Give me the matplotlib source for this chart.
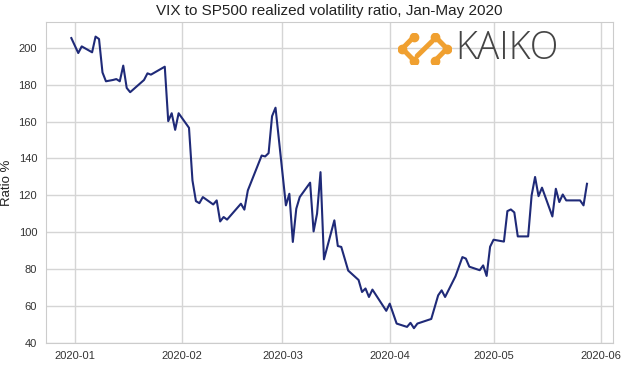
import matplotlib
matplotlib.use("Agg")
import matplotlib.pyplot as plt
import matplotlib.dates as mdates
import numpy as np
import pandas as pd

day_offsets = [-1, 1, 2, 5, 6, 7, 8, 9, 11, 12, 13, 14, 15, 16, 20, 21, 22, 26, 27, 28,
               29, 30, 33, 34, 35, 36, 37, 40, 41, 42, 43, 44, 48, 49, 50, 54, 55, 56, 57, 58,
               61, 62, 63, 64, 65, 68, 69, 70, 71, 72, 75, 76, 77, 79, 82, 83, 84, 85, 86, 90,
               91, 93, 96, 97, 98, 99, 103, 105, 106, 107, 110, 112, 113, 114, 117, 118, 119, 120, 121, 124,
               125, 126, 127, 128, 131, 132, 133, 134, 135, 138, 139, 140, 141, 142, 146, 147, 148]
ratio = [205.2, 197.1, 200.7, 197.5, 206.0, 204.7, 186.6, 181.8, 182.5, 183.0, 181.8, 190.3, 178.2, 175.9, 182.5, 186.1, 185.4, 189.7, 160.2, 164.5,
         155.5, 164.5, 156.6, 128.1, 116.9, 115.8, 119.1, 115.1, 117.3, 105.9, 108.3, 106.9, 115.5, 112.3, 122.7, 141.6, 141.1, 142.9, 162.9, 167.5,
         114.6, 120.9, 94.8, 112.8, 119.1, 126.9, 100.5, 110.1, 132.6, 85.4, 106.5, 92.6, 92.1, 79.3, 74.2, 67.7, 69.6, 65.0, 69.0, 57.5,
         61.4, 50.6, 48.8, 51.0, 48.1, 50.6, 53.1, 65.9, 68.6, 65.0, 76.2, 86.6, 85.8, 81.4, 79.5, 82.1, 76.4, 92.2, 96.0, 95.0,
         111.5, 112.4, 110.8, 97.8, 97.8, 120.0, 130.0, 119.6, 124.2, 108.6, 123.6, 116.4, 120.5, 117.3, 117.3, 114.6, 126.3]

dates = pd.Timestamp("2020-01-01") + pd.to_timedelta(day_offsets, unit="D")

title = "VIX to SP500 realized volatility ratio, Jan-May 2020"
ylabel = "Ratio %"
brand = "KAIKO"

plt.rcParams['font.family'] = ['Liberation Sans', 'DejaVu Sans']

fig = plt.figure(figsize=(6.24, 3.67), dpi=100)
ax = fig.add_axes([0.073, 0.065, 0.909, 0.875])
ax.plot(dates, ratio, color="#1f2a78", lw=1.5)

ax.set_yticks(np.arange(40, 201, 20))
ax.xaxis.set_major_locator(mdates.MonthLocator())
ax.xaxis.set_major_formatter(mdates.DateFormatter("%Y-%m"))
ax.grid(True, color="#d5d5d5", lw=1)
ax.set_axisbelow(True)
for s in ax.spines.values():
    s.set_color("#cccccc")
ax.tick_params(length=0, labelsize=8, colors="#333333", pad=6)
ax.set_ylabel(ylabel, fontsize=9.5, color="#222222", labelpad=4)
ax.set_title(title, fontsize=11, color="#222222", pad=5)

# logo
lax = fig.add_axes([0.638, 0.825, 0.085, 0.085])
lax.set_xlim(0, 10); lax.set_ylim(0, 6)
lax.axis("off")
org = "#f0a030"
segs = [[(0.8, 3.0), (3.0, 5.3)], [(0.8, 3.0), (3.0, 0.7)],
        [(9.2, 3.0), (7.0, 5.3)], [(9.2, 3.0), (7.0, 0.7)],
        [(3.6, 1.6), (6.4, 4.4)]]
for (x0, y0), (x1, y1) in segs:
    lax.plot([x0, x1], [y0, y1], color=org, lw=3.6, solid_capstyle="round")
for (x, y) in [(0.8, 3.0), (3.0, 5.3), (3.0, 0.7), (9.2, 3.0), (7.0, 5.3), (7.0, 0.7)]:
    lax.plot(x, y, "o", color=org, ms=6)
fig.text(0.73, 0.868, brand, fontsize=27, color="#444444", va="center", ha="left",
         family=["Open Sans", "DejaVu Sans"], fontweight=300)

fig.savefig("out.png", dpi=100)
